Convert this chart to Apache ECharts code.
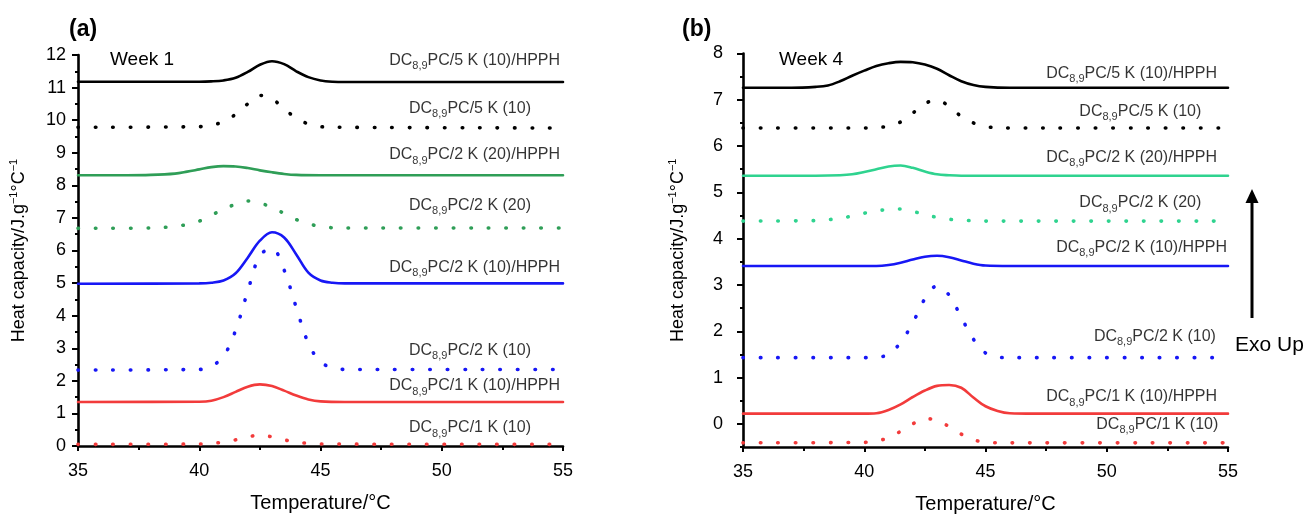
<!DOCTYPE html>
<html><head><meta charset="utf-8">
<script src="https://cdn.jsdelivr.net/npm/echarts@6/dist/echarts.min.js"></script>
<style>html,body{margin:0;padding:0;background:#fff}#c{width:1306px;height:514px}</style>
</head><body><div id="c"></div>
<script>
// ---------- tick labels ----------
const xTicks = [35, 40, 45, 50, 55];
const yTicksW1 = [0,1,2,3,4,5,6,7,8,9,10,11,12];
const yTicksW4 = [0,1,2,3,4,5,6,7,8];
const yMinorW4 = [-0.5,0.5,1.5,2.5,3.5,4.5,5.5,6.5,7.5];

// ---------- Week 1 curves [temperature, heat capacity] ----------
const w1_5K10_HPPH = [[35,11.18],[40,11.18],[40.5,11.19],[41,11.22],[41.5,11.3],[42,11.48],[42.5,11.7],[43,11.81],[43.5,11.72],[44,11.5],[44.5,11.32],[45,11.22],[45.5,11.18],[46,11.17],[55,11.17]];
const w1_5K10 = [[35,9.78],[40,9.8],[40.5,9.84],[41,9.96],[41.5,10.18],[42,10.5],[42.5,10.76],[43,10.66],[43.5,10.34],[44,10.07],[44.5,9.88],[45,9.8],[46,9.78],[55,9.76]];
const w1_2K20_HPPH = [[35,8.31],[37,8.31],[38,8.32],[39,8.36],[39.5,8.42],[40,8.49],[40.5,8.56],[41,8.59],[41.5,8.58],[42,8.53],[42.5,8.46],[43,8.4],[43.5,8.35],[44,8.32],[45,8.31],[55,8.31]];
const w1_2K20 = [[35,6.68],[38,6.69],[39,6.74],[39.5,6.8],[40,6.9],[40.5,7.08],[41,7.27],[41.5,7.42],[42,7.52],[42.5,7.46],[43,7.32],[43.5,7.14],[44,6.95],[44.5,6.83],[45,6.73],[46,6.69],[55,6.69]];
const w1_2K10_HPPH = [[35,4.98],[40,4.99],[40.5,5.01],[41,5.08],[41.5,5.3],[42,5.78],[42.5,6.3],[43,6.56],[43.5,6.4],[44,5.88],[44.5,5.32],[45,5.08],[45.5,5.01],[46,4.99],[55,4.99]];
const w1_2K10 = [[35,2.33],[40,2.35],[40.5,2.45],[41,2.75],[41.5,3.55],[42,4.75],[42.5,5.85],[43,6.06],[43.5,5.4],[44,4.25],[44.5,3.15],[45,2.58],[45.5,2.4],[46,2.35],[55,2.35]];
const w1_1K10_HPPH = [[35,1.35],[40,1.36],[40.5,1.39],[41,1.5],[41.5,1.66],[42,1.82],[42.5,1.89],[43,1.84],[43.5,1.7],[44,1.55],[44.5,1.43],[45,1.37],[46,1.35],[55,1.35]];
const w1_1K10 = [[35,0.05],[40,0.06],[40.5,0.08],[41,0.12],[41.5,0.19],[42,0.28],[42.5,0.33],[43,0.28],[43.5,0.19],[44,0.12],[44.5,0.08],[45,0.06],[55,0.05]];

// ---------- Week 4 curves ----------
const w4_5K10_HPPH = [[35,7.26],[37,7.26],[38,7.28],[38.5,7.31],[39,7.4],[39.5,7.52],[40,7.63],[40.5,7.73],[41,7.79],[41.5,7.82],[42,7.81],[42.5,7.76],[43,7.67],[43.5,7.53],[44,7.4],[44.5,7.32],[45,7.28],[46,7.26],[55,7.26]];
const w4_5K10 = [[35,6.39],[40,6.39],[40.5,6.4],[41,6.43],[41.5,6.52],[42,6.71],[42.5,6.92],[43,6.99],[43.5,6.86],[44,6.64],[44.5,6.5],[45,6.42],[46,6.39],[55,6.39]];
const w4_2K20_HPPH = [[35,5.36],[38,5.36],[39,5.37],[39.5,5.39],[40,5.44],[40.5,5.5],[41,5.56],[41.5,5.58],[42,5.53],[42.5,5.45],[43,5.39],[43.5,5.37],[44,5.36],[55,5.36]];
const w4_2K20 = [[35,4.38],[38,4.39],[38.5,4.41],[39,4.44],[39.5,4.49],[40,4.55],[40.5,4.6],[41,4.63],[41.5,4.64],[42,4.59],[42.5,4.52],[43,4.46],[43.5,4.42],[44,4.4],[45,4.38],[55,4.38]];
const w4_2K10_HPPH = [[35,3.41],[40.5,3.41],[41,3.43],[41.5,3.48],[42,3.55],[42.5,3.61],[43,3.63],[43.5,3.6],[44,3.53],[44.5,3.46],[45,3.42],[46,3.41],[55,3.41]];
const w4_2K10 = [[35,1.43],[40,1.43],[40.5,1.44],[41,1.5],[41.5,1.76],[42,2.18],[42.5,2.7],[43,2.98],[43.5,2.78],[44,2.3],[44.5,1.83],[45,1.53],[45.5,1.44],[46,1.43],[55,1.43]];
const w4_1K10_HPPH = [[35,0.22],[40,0.22],[40.5,0.23],[41,0.3],[41.5,0.42],[42,0.58],[42.5,0.72],[43,0.82],[43.5,0.84],[44,0.78],[44.5,0.57],[45,0.38],[45.5,0.28],[46,0.23],[47,0.22],[55,0.22]];
const w4_1K10 = [[35,-0.41],[40,-0.4],[40.5,-0.37],[41,-0.3],[41.5,-0.16],[42,0.0],[42.5,0.11],[43,0.08],[43.5,-0.06],[44,-0.22],[44.5,-0.34],[45,-0.4],[46,-0.41],[55,-0.41]];

// ---------- curve labels (text after "DC" + subscript "8,9") ----------
const labelRest = ['PC/5 K (10)/HPPH','PC/5 K (10)','PC/2 K (20)/HPPH','PC/2 K (20)','PC/2 K (10)/HPPH','PC/2 K (10)','PC/1 K (10)/HPPH','PC/1 K (10)'];
const labelAnchorW1 = [[54.88,11.84],[53.68,10.37],[54.88,8.93],[53.68,7.39],[54.88,5.49],[53.68,2.94],[54.88,1.84],[53.68,0.55]];
const labelAnchorW4 = [[54.55,7.56],[53.9,6.74],[54.55,5.75],[53.9,4.77],[54.96,3.80],[54.5,1.88],[54.55,0.58],[54.6,-0.02]];

const FONT = 'Liberation Sans, Arial, Helvetica, sans-serif';
const C = {black:'#000000', green:'#2f9e57', mint:'#2fd38f', blue:'#1717f5', red:'#f23b3b'};

const w1Data = [w1_5K10_HPPH,w1_5K10,w1_2K20_HPPH,w1_2K20,w1_2K10_HPPH,w1_2K10,w1_1K10_HPPH,w1_1K10];
const w4Data = [w4_5K10_HPPH,w4_5K10,w4_2K20_HPPH,w4_2K20,w4_2K10_HPPH,w4_2K10,w4_1K10_HPPH,w4_1K10];
const colW1 = [C.black,C.black,C.green,C.green,C.blue,C.blue,C.red,C.red];
const colW4 = [C.black,C.black,C.mint,C.mint,C.blue,C.blue,C.red,C.red];

function curve(data, color, dotted, xi, yi, name) {
  return {
    type:'line', name, xAxisIndex:xi, yAxisIndex:yi, data, smooth:0.35, showSymbol:false, symbol:'none', silent:true,
    lineStyle: dotted ? {color, width:3.6, type:[0.5,17], cap:'round'} : {color, width:2.6, cap:'round'}
  };
}
function labelSeries(anchors, xi, yi) {
  return {
    type:'scatter', xAxisIndex:xi, yAxisIndex:yi, symbolSize:0, silent:true,
    data: anchors,
    label: {
      show:true, position:'left', distance:0,
      formatter: p => '{m|DC}{s|8,9}{m|' + labelRest[p.dataIndex] + '}',
      rich: {
        m: {fontSize:16, fontFamily:FONT, color:'#000', lineHeight:22},
        s: {fontSize:11, fontFamily:FONT, color:'#000', lineHeight:11, verticalAlign:'bottom'}
      }
    }
  };
}

const series = [];
w1Data.forEach((d,i) => series.push(curve(d, colW1[i], i%2===1, 0, 0, 'w1_'+i)));
w4Data.forEach((d,i) => series.push(curve(d, colW4[i], i%2===1, 1, 1, 'w4_'+i)));
series.push(labelSeries(labelAnchorW1, 0, 0));
series.push(labelSeries(labelAnchorW4, 1, 1));

const xAxisBase = (gi) => ({
  gridIndex:gi, type:'value', min:35, max:55, interval:5,
  axisLine:{show:true, onZero:false, lineStyle:{color:'#000', width:2.6}},
  axisTick:{show:true, length:5, lineStyle:{color:'#000', width:2}},
  minorTick:{show:true, splitNumber:2, length:4, lineStyle:{color:'#000', width:2}},
  splitLine:{show:false},
  axisLabel:{fontSize:18, color:'#000', margin:16, fontFamily:FONT, customValues:xTicks},
  name:'Temperature/°C', nameLocation:'middle', nameGap:47,
  nameTextStyle:{fontSize:20, color:'#000', fontFamily:FONT}
});
const yName = '{n|Heat capacity/J.g}{p|−1}{n|°C}{p|−1}';
const yNameStyle = {
  fontFamily:FONT, color:'#000',
  rich:{
    n:{fontSize:18, fontFamily:FONT, color:'#000', lineHeight:22},
    p:{fontSize:11, fontFamily:FONT, color:'#000', lineHeight:11, verticalAlign:'top'}
  }
};

const option = {
  animation:false,
  backgroundColor:'#ffffff',
  textStyle:{fontFamily:FONT},
  title:[
    {text:'(a)', left:64, top:13, textStyle:{fontSize:23, fontWeight:'bold', color:'#000', fontFamily:FONT}},
    {text:'(b)', left:677, top:13, textStyle:{fontSize:23, fontWeight:'bold', color:'#000', fontFamily:FONT}},
    {text:'Week 1', left:105, top:45, textStyle:{fontSize:19, fontWeight:'normal', color:'#000', fontFamily:FONT}},
    {text:'Week 4', left:774, top:45, textStyle:{fontSize:19, fontWeight:'normal', color:'#000', fontFamily:FONT}}
  ],
  grid:[
    {left:78, top:55, width:485, height:391, outerBoundsMode:'none', containLabel:false},
    {left:743, top:53.5, width:485, height:393.5, outerBoundsMode:'none', containLabel:false}
  ],
  xAxis:[xAxisBase(0), xAxisBase(1)],
  yAxis:[
    {gridIndex:0, type:'value', position:'left', min:0, max:12, interval:1,
     axisLine:{show:true, onZero:false, lineStyle:{color:'#000', width:2.6}},
     axisTick:{show:true, length:6, lineStyle:{color:'#000', width:2}},
     minorTick:{show:true, splitNumber:2, length:3, lineStyle:{color:'#000', width:2}},
     splitLine:{show:false},
     axisLabel:{fontSize:18, color:'#000', margin:12, fontFamily:FONT, customValues:yTicksW1},
     name:yName, nameLocation:'middle', nameRotate:90, nameGap:48, nameTextStyle:yNameStyle},
    {gridIndex:1, type:'value', position:'left', min:-0.5, max:8,
     axisLine:{show:true, onZero:false, lineStyle:{color:'#000', width:2.6}},
     axisTick:{show:true, length:6, lineStyle:{color:'#000', width:2}, customValues:yTicksW4},
     splitLine:{show:false},
     axisLabel:{fontSize:18, color:'#000', margin:20, fontFamily:FONT, customValues:yTicksW4},
     name:yName, nameLocation:'middle', nameRotate:90, nameGap:54, nameTextStyle:yNameStyle},
    {gridIndex:1, type:'value', position:'right', offset:-485, min:-0.5, max:8,
     axisLine:{show:false},
     axisTick:{show:true, inside:true, length:3, lineStyle:{color:'#000', width:2}, customValues:yMinorW4},
     axisLabel:{show:false, customValues:yMinorW4},
     splitLine:{show:false}}
  ],
  graphic:[
    {type:'line', shape:{x1:1252, y1:200, x2:1252, y2:318}, style:{stroke:'#000', lineWidth:3}},
    {type:'polygon', shape:{points:[[1252,189],[1245.5,203],[1258.5,203]]}, style:{fill:'#000'}},
    {type:'text', left:1235, top:335, style:{text:'Exo Up', fontSize:21, fill:'#000', fontFamily:FONT}}
  ],
  series
};
const chart = echarts.init(document.getElementById('c'), null, {renderer:'canvas'});
chart.setOption(option);
</script></body></html>
